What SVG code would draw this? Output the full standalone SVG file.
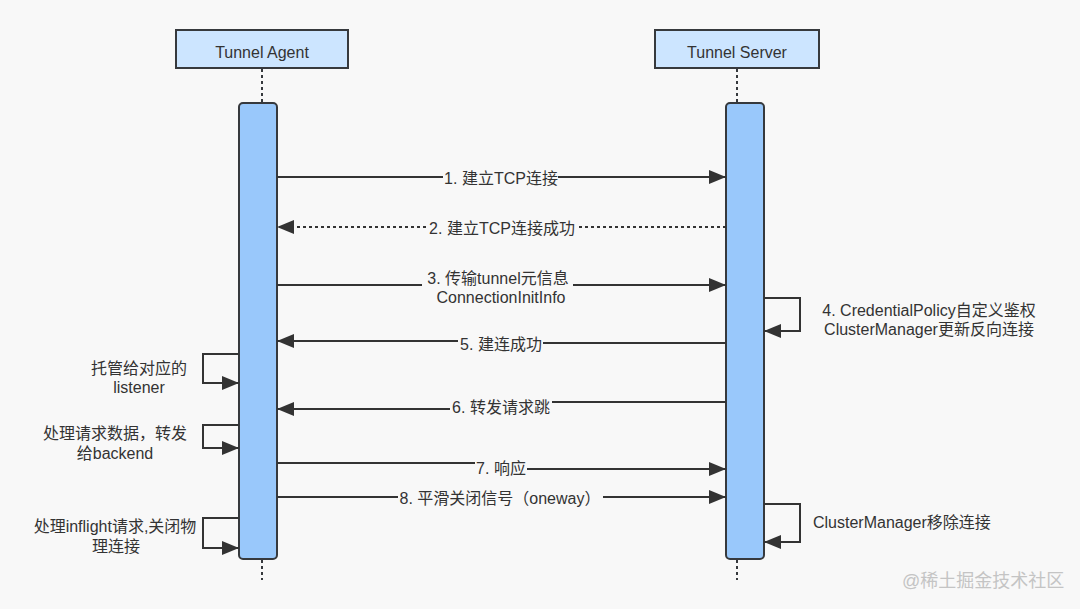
<svg xmlns="http://www.w3.org/2000/svg" width="1080" height="609" viewBox="0 0 1080 609">
<style>
text{font-family:"Liberation Sans","Noto Sans CJK SC",sans-serif;font-size:16px;fill:#333}
.c{text-anchor:middle}
.box{fill:#cce5ff;stroke:#36393d;stroke-width:2}
.bar{fill:#99c8fb;stroke:#36393d;stroke-width:2}
.life{stroke:#36393d;stroke-width:2;stroke-dasharray:3 3;fill:none}
.msg{stroke:#333;stroke-width:2;fill:none}
.dash{stroke-dasharray:3 3}
.lbg{fill:#f8f8f8}
</style>
<defs>
<marker id="ah" markerUnits="userSpaceOnUse" markerWidth="18" markerHeight="14" viewBox="0 0 18 14" refX="17" refY="7" orient="auto">
<path d="M0,0 L17,7 L0,14 z" fill="#333"/>
</marker>
</defs>
<rect width="1080" height="609" fill="#f8f8f8"/>
<g id="agent">
<rect class="box" x="176" y="30" width="172" height="38"/>
<text class="c" x="262" y="57.500">Tunnel Agent</text>
<line class="life" x1="262" y1="69" x2="262" y2="103"/>
<rect class="bar" x="239" y="103" width="38" height="456" rx="4"/>
<line class="life" x1="262" y1="560" x2="262" y2="580"/>
</g>
<g id="server">
<rect class="box" x="655" y="30" width="164" height="38"/>
<text class="c" x="737" y="57.500">Tunnel Server</text>
<line class="life" x1="737" y1="69" x2="737" y2="103"/>
<rect class="bar" x="726" y="103" width="38" height="456" rx="4"/>
<line class="life" x1="737" y1="560" x2="737" y2="580"/>
</g>
<g id="connectors">
<line class="msg" x1="277" y1="177" x2="726" y2="177" marker-end="url(#ah)"/>
<line class="msg dash" x1="726" y1="227" x2="277" y2="227" marker-end="url(#ah)"/>
<line class="msg" x1="277" y1="285" x2="726" y2="285" marker-end="url(#ah)"/>
<path class="msg" d="M764,298 H800 V331 H764" marker-end="url(#ah)"/>
<path class="msg" d="M726,343 H502 V341 H277" marker-end="url(#ah)"/>
<path class="msg" d="M239,354 H203 V383 H239" marker-end="url(#ah)"/>
<path class="msg" d="M726,402 H502 V409 H277" marker-end="url(#ah)"/>
<path class="msg" d="M239,425 H203 V448 H239" marker-end="url(#ah)"/>
<path class="msg" d="M277,463 H502 V469 H726" marker-end="url(#ah)"/>
<line class="msg" x1="277" y1="497" x2="726" y2="497" marker-end="url(#ah)"/>
<path class="msg" d="M764,504 H800 V542 H764" marker-end="url(#ah)"/>
<path class="msg" d="M239,518 H203 V548 H239" marker-end="url(#ah)"/>
</g>
<g id="labels">
<rect class="lbg" x="443" y="168" width="115" height="20"/>
<text class="c" x="501" y="184">1. 建立TCP连接</text>
<rect class="lbg" x="428" y="218" width="148" height="20"/>
<text class="c" x="502" y="234">2. 建立TCP连接成功</text>
<rect class="lbg" x="422" y="268" width="151" height="40"/>
<text class="c" x="498" y="284">3. 传输tunnel元信息</text>
<text class="c" x="501" y="303">ConnectionInitInfo</text>
<text class="c" x="929" y="316">4. CredentialPolicy自定义鉴权</text>
<text class="c" x="929" y="335">ClusterManager更新反向连接</text>
<rect class="lbg" x="458" y="333" width="85" height="20"/>
<text class="c" x="501" y="350">5. 建连成功</text>
<text class="c" x="139" y="374">托管给对应的</text>
<text class="c" x="139" y="393">listener</text>
<rect class="lbg" x="450" y="397" width="102" height="20"/>
<text class="c" x="501" y="413">6. 转发请求跳</text>
<text class="c" x="115" y="439">处理请求数据，转发</text>
<text class="c" x="115" y="459">给backend</text>
<rect class="lbg" x="475" y="458" width="52" height="20"/>
<text class="c" x="501" y="474">7. 响应</text>
<rect class="lbg" x="398" y="487" width="205" height="20"/>
<text class="c" x="500" y="504">8. 平滑关闭信号（oneway）</text>
<text x="813" y="528">ClusterManager移除连接</text>
<text class="c" x="115" y="532">处理inflight请求,关闭物</text>
<text class="c" x="116" y="552">理连接</text>
<text x="902" y="587" style="font-size:18px;fill:#c4c4c4">@稀土掘金技术社区</text>
</g>
</svg>
